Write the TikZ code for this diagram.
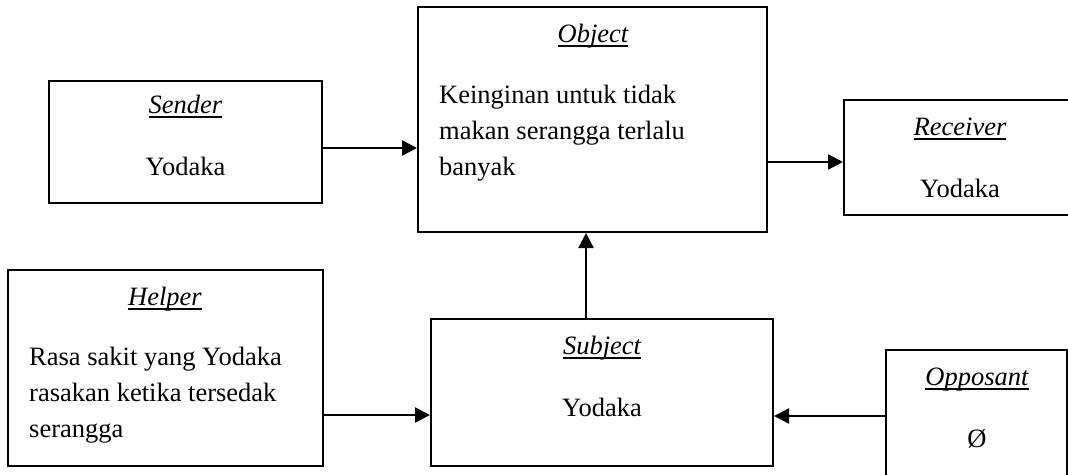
\documentclass[tikz,border=0pt]{standalone}
\usepackage{fontspec}
\setmainfont{Liberation Serif}
\usetikzlibrary{arrows.meta}

% italic role name with a thick underline just below the baseline
\newcommand{\roletitle}[1]{\setbox0\hbox{\itshape #1}\rlap{\rule[-4.5pt]{\wd0}{2pt}}\box0}

\tikzset{
  box/.style={draw, line width=2pt, rectangle, inner sep=0pt},
  txt/.style={inner sep=0pt, anchor=base, font=\fontsize{26.5}{36}\selectfont},
  txtl/.style={txt, anchor=base west},
  arr/.style={line width=2.4pt, -{Triangle[length=15pt,width=15pt]}}
}

\begin{document}
\begin{tikzpicture}[x=1pt,y=-1pt]
  \useasboundingbox (0,0) rectangle (1068,474);
  \clip (0,0) rectangle (1068,474);

  % boxes
  \node[box, minimum width=273pt, minimum height=122pt] (sender)   at (185.5,142)   {};
  \node[box, minimum width=349pt, minimum height=225pt] (object)   at (592.5,119.5) {};
  \node[box, minimum width=236pt, minimum height=115pt] (receiver) at (962,157.5)   {};
  \node[box, minimum width=315pt, minimum height=196pt] (helper)   at (165.5,368)   {};
  \node[box, minimum width=342pt, minimum height=147pt] (subject)  at (602,392.5)   {};
  \node[box, minimum width=181pt, minimum height=140pt] (opposant) at (976.5,420)   {};

  % Sender
  \node[txt] (senderT) at (185.5,113) {\roletitle{Sender}};
  \node[txt] (senderV) at (185.5,175) {Yodaka};

  % Object
  \node[txt]  (objectT)  at (593,42)  {\roletitle{Object}};
  \node[txtl] (objectL1) at (439,103) {Keinginan untuk tidak};
  \node[txtl] (objectL2) at (439,139) {makan serangga terlalu};
  \node[txtl] (objectL3) at (439,175) {banyak};

  % Receiver
  \node[txt] (receiverT) at (960,135) {\roletitle{Receiver}};
  \node[txt] (receiverV) at (960,197) {Yodaka};

  % Helper
  \node[txt]  (helperT)  at (165,305) {\roletitle{Helper}};
  \node[txtl] (helperL1) at (29,365)  {Rasa sakit yang Yodaka};
  \node[txtl] (helperL2) at (29,401)  {rasakan ketika tersedak};
  \node[txtl] (helperL3) at (29,437)  {serangga};

  % Subject
  \node[txt] (subjectT) at (602,354) {\roletitle{Subject}};
  \node[txt] (subjectV) at (602,416) {Yodaka};

  % Opposant
  \node[txt] (opposantT) at (977,385) {\roletitle{Opposant}};
  \node[txt] (opposantV) at (977,447) {Ø};

  % levels of the connectors
  \coordinate (ySO) at (0,148);
  \coordinate (yOR) at (0,162);
  \coordinate (xSU) at (586,0);
  \coordinate (yHS) at (0,415);
  \coordinate (yOS) at (0,416);

  % connectors
  \draw[arr] (sender.east |- ySO) -- (object.west |- ySO);
  \draw[arr] (object.east |- yOR) -- (receiver.west |- yOR);
  \draw[arr] (xSU |- subject.north) -- (xSU |- object.south);
  \draw[arr] (helper.east |- yHS) -- (subject.west |- yHS);
  \draw[arr] (opposant.west |- yOS) -- (subject.east |- yOS);
\end{tikzpicture}
\end{document}
